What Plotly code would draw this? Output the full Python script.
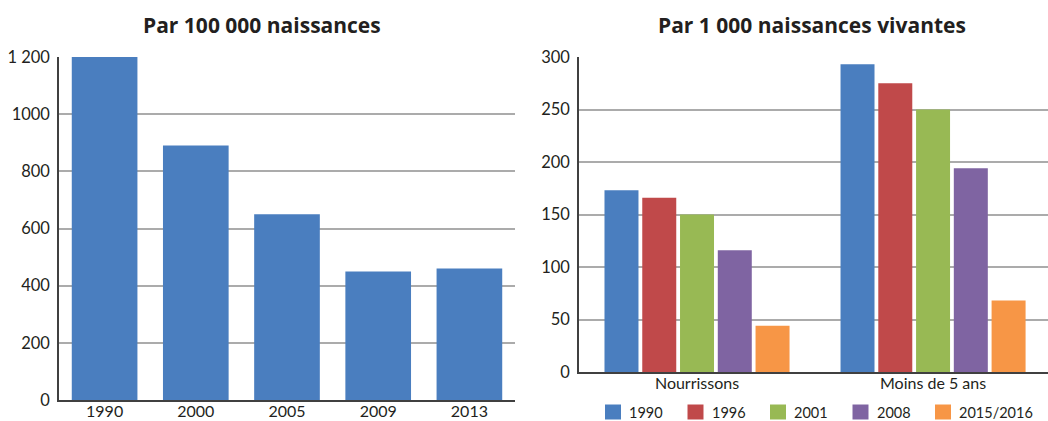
import plotly.graph_objects as go
from plotly.subplots import make_subplots

# Maternal mortality, per 100 000 births
years_left = ["1990", "2000", "2005", "2009", "2013"]
values_left = [1200, 890, 650, 450, 460]
left_tickvals = [0, 200, 400, 600, 800, 1000, 1200]
left_ticktext = ["0", "200", "400", "600", "800", "1000", "1 200"]

# Child mortality, per 1 000 live births
groups_right = ["Nourrissons", "Moins de 5 ans"]
series_names = ["1990", "1996", "2001", "2008", "2015/2016"]
series_values = [
    [173, 293],
    [166, 275],
    [150, 250],
    [116, 194],
    [44, 68],
]
series_colors = ["#4a7ebf", "#c0494a", "#98b954", "#7f64a2", "#f79646"]
right_tickvals = [0, 50, 100, 150, 200, 250, 300]

FONT = "Lato"
TITLE_FONT = "Open Sans"
TEXT = "#231f20"
GRID = "#ababab"
AXIS = "#404040"
W, H = 1048.0, 421.0

fig = make_subplots(rows=1, cols=2)

fig.add_trace(
    go.Bar(x=years_left, y=values_left, marker_color=series_colors[0],
           marker_line_width=0, showlegend=False),
    row=1, col=1,
)

for name, vals, col in zip(series_names, series_values, series_colors):
    fig.add_trace(
        go.Bar(x=groups_right, y=vals, name=name, marker_color=col,
               marker_line_width=0, showlegend=False),
        row=1, col=2,
    )

axis_common = dict(showline=True, linecolor=AXIS, ticks="", showgrid=False,
                   tickfont=dict(size=16), ticklabelstandoff=-4)
yaxis_common = dict(showline=True, linecolor=AXIS, linewidth=1.5,
                    gridcolor=GRID, gridwidth=1.5, zeroline=False,
                    ticks="outside", ticklen=4, tickcolor="rgba(0,0,0,0)",
                    tickfont=dict(size=16.5))

fig.update_layout(
    width=1048, height=421,
    margin=dict(l=0, r=0, t=0, b=0, autoexpand=False),
    paper_bgcolor="white", plot_bgcolor="white",
    font=dict(family=FONT, size=16.5, color=TEXT),
    barmode="group",
    bargap=0.2, bargroupgap=0.1,
    showlegend=False,
    xaxis=dict(domain=[59 / W, 515 / W], linewidth=2, **axis_common),
    xaxis2=dict(domain=[579 / W, 1.0], range=[-0.5, 1.487], linewidth=2,
                **axis_common),
    yaxis=dict(domain=[(H - 400) / H, (H - 57) / H], range=[0, 1200],
               tickvals=left_tickvals, ticktext=left_ticktext, **yaxis_common),
    yaxis2=dict(domain=[(H - 372) / H, (H - 57) / H], range=[0, 300],
                tickvals=right_tickvals, **yaxis_common),
)

# Panel titles
for text, cx in [("Par 100 000 naissances", 262), ("Par 1 000 naissances vivantes", 812)]:
    fig.add_annotation(text=f"<b>{text}</b>", x=cx / W, y=(H - 25) / H,
                       xref="paper", yref="paper", xanchor="center", yanchor="middle",
                       showarrow=False,
                       font=dict(family=TITLE_FONT, size=21, color=TEXT))

# Legend row under the right panel: coloured squares with labels
leg_x0, leg_pitch, leg_y = 605, 82.5, 412
for i, (name, col) in enumerate(zip(series_names, series_colors)):
    x0 = leg_x0 + i * leg_pitch
    fig.add_shape(type="rect", xref="paper", yref="paper",
                  x0=x0 / W, x1=(x0 + 16) / W,
                  y0=(H - leg_y - 7.5) / H, y1=(H - leg_y + 7.5) / H,
                  fillcolor=col, line_width=0)
    fig.add_annotation(text=name, x=(x0 + 22) / W, y=(H - leg_y) / H,
                       xref="paper", yref="paper", xanchor="left", yanchor="middle",
                       showarrow=False, font=dict(family=FONT, size=14.5, color=TEXT))

fig.write_html("out.html")
